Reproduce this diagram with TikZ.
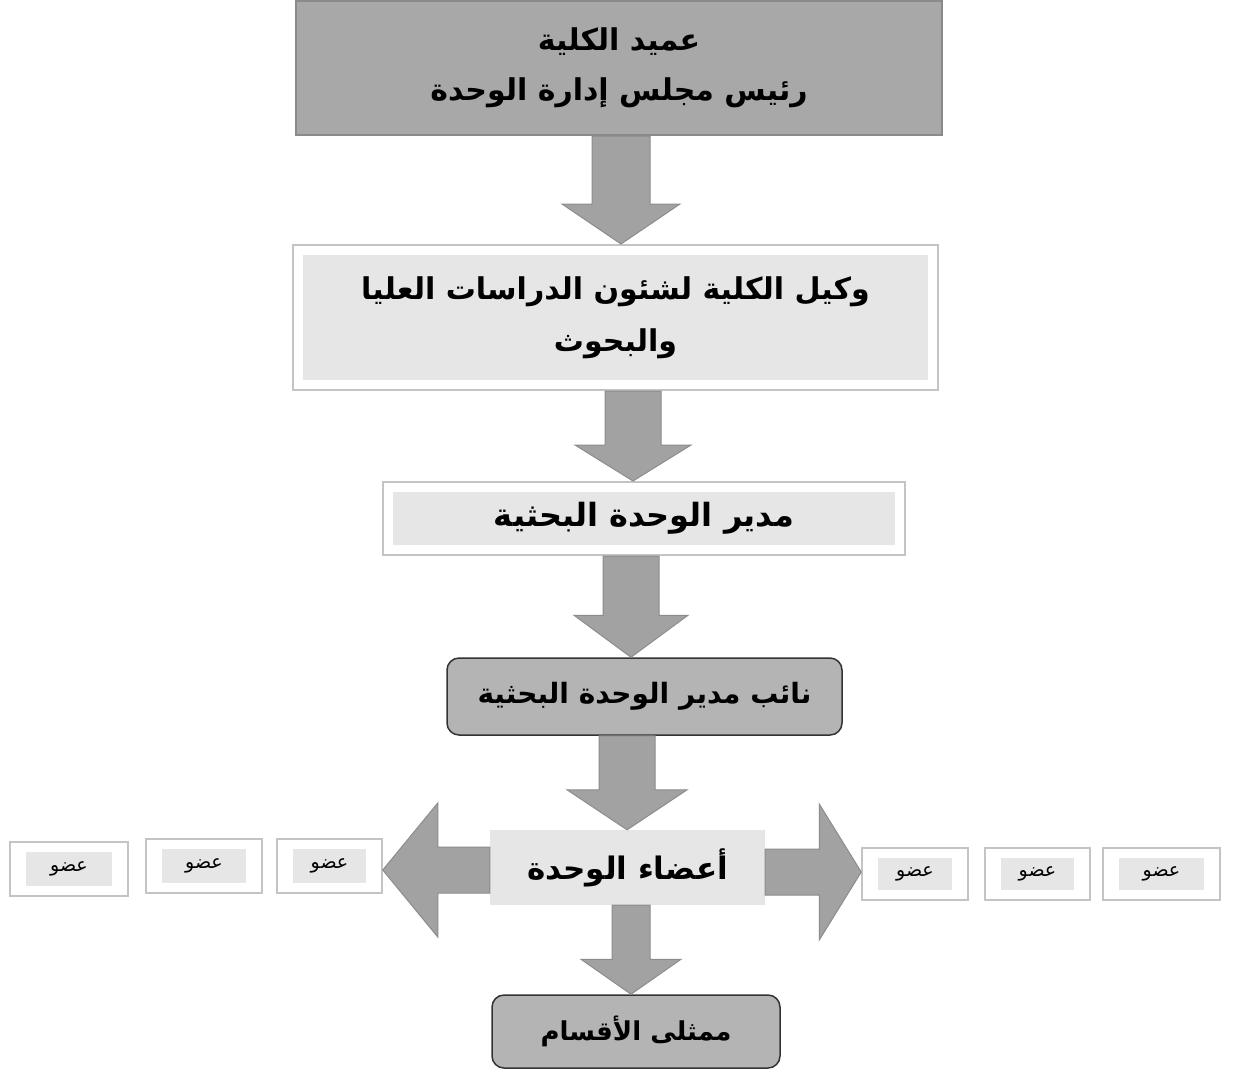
\documentclass[tikz,border=0pt]{standalone}
\usepackage{fontspec}
\newfontfamily\arabicfont[Script=Arabic]{DejaVu Sans}
\TeXXeTstate=1
\usetikzlibrary{calc}
\definecolor{darkbox}{HTML}{A8A8A8}
\definecolor{darkedge}{HTML}{8A8A8A}
\definecolor{roundbox}{HTML}{B4B4B4}
\definecolor{lightpanel}{HTML}{E6E6E6}
\definecolor{lightedge}{HTML}{C4C4C4}
\definecolor{arrowfill}{HTML}{A2A2A2}
\definecolor{arrowedge}{HTML}{8C8C8C}
\tikzset{
  ar/.style 2 args={font=\arabicfont\bfseries\fontsize{#1}{#2}\selectfont, text=black, align=center, inner sep=0pt},
  deanbox/.style={ar={30}{50}, fill=darkbox, draw=darkedge, line width=2pt},
  framedbox/.style={ar={30}{52}, fill=white, draw=lightedge, line width=2pt,
    path picture={\fill[lightpanel] ($(path picture bounding box.north west)+(10pt,-10pt)$) rectangle ($(path picture bounding box.south east)+(-10pt,10pt)$);}},
  roundedbox/.style={ar={28}{40}, fill=roundbox, draw=black!80, line width=1.5pt, rounded corners=12pt},
  plainbox/.style={ar={31}{40}, fill=lightpanel},
  memberbox/.style={font=\arabicfont\fontsize{19}{22}\selectfont, text=black, inner sep=0pt,
    fill=white, draw=lightedge, line width=1.5pt, minimum height=54pt,
    path picture={\fill[lightpanel] ($(path picture bounding box.north west)+(16pt,-10pt)$) rectangle ($(path picture bounding box.south east)+(-16pt,10pt)$);}},
  barrow/.style={fill=arrowfill, draw=arrowedge, line width=1pt, line join=miter}
}
% vertical block arrow: from node, to node, x centre, shaft half width, head half width, head length
\newcommand\blockdown[6]{%
  \draw[barrow] let \p1=(#1.south), \p2=(#2.north) in
  (#3pt-#4pt,\y1) -- (#3pt+#4pt,\y1) -- (#3pt+#4pt,\y2+#6pt) -- (#3pt+#5pt,\y2+#6pt)
  -- (#3pt,\y2) -- (#3pt-#5pt,\y2+#6pt) -- (#3pt-#4pt,\y2+#6pt) -- cycle;}
% leftward block arrow
\newcommand\blockleft[6]{%
  \draw[barrow] let \p1=(#1.west), \p2=(#2.east) in
  (\x1,-#3pt+#4pt) -- (\x1,-#3pt-#4pt) -- (\x2+#6pt,-#3pt-#4pt) -- (\x2+#6pt,-#3pt-#5pt)
  -- (\x2,-#3pt) -- (\x2+#6pt,-#3pt+#5pt) -- (\x2+#6pt,-#3pt+#4pt) -- cycle;}
% rightward block arrow
\newcommand\blockright[6]{%
  \draw[barrow] let \p1=(#1.east), \p2=(#2.west) in
  (\x1,-#3pt+#4pt) -- (\x1,-#3pt-#4pt) -- (\x2-#6pt,-#3pt-#4pt) -- (\x2-#6pt,-#3pt-#5pt)
  -- (\x2,-#3pt) -- (\x2-#6pt,-#3pt+#5pt) -- (\x2-#6pt,-#3pt+#4pt) -- cycle;}
\begin{document}
\begin{tikzpicture}[x=1pt,y=-1pt]
\useasboundingbox[fill=white] (0,0) rectangle (1233,1074);
% main chain
\node[deanbox, minimum width=646pt, minimum height=134pt] (dean) at (619,68)
  {\beginR عميد الكلية\endR\\\beginR رئيس مجلس إدارة الوحدة\endR};
\node[framedbox, minimum width=645pt, minimum height=145pt] (vice) at (615.5,317.5)
  {\beginR وكيل الكلية لشئون الدراسات العليا\endR\\\beginR والبحوث\endR};
\node[framedbox, ar={32}{40}, minimum width=522pt, minimum height=73pt] (head) at (644,518.5)
  {\beginR مدير الوحدة البحثية\endR};
\node[roundedbox, minimum width=395pt, minimum height=77pt] (deputy) at (644.5,696.5)
  {\beginR نائب مدير الوحدة البحثية\endR};
\node[plainbox, minimum width=275pt, minimum height=75pt] (members) at (627.5,867.5)
  {\beginR أعضاء الوحدة\endR};
\node[roundedbox, ar={26}{40}, minimum width=288pt, minimum height=73pt] (reps) at (636,1031.5)
  {\beginR ممثلى الأقسام\endR};
% member boxes
\node[memberbox, minimum width=118pt] (l1) at (69,869) {\beginR عضو\endR};
\node[memberbox, minimum width=116pt] (l2) at (204,866) {\beginR عضو\endR};
\node[memberbox, minimum width=105pt] (l3) at (329.5,866) {\beginR عضو\endR};
\node[memberbox, minimum width=106pt, minimum height=52pt] (r1) at (915,874) {\beginR عضو\endR};
\node[memberbox, minimum width=105pt, minimum height=52pt] (r2) at (1037.5,874) {\beginR عضو\endR};
\node[memberbox, minimum width=117pt, minimum height=52pt] (r3) at (1161.5,874) {\beginR عضو\endR};
% block arrows
\blockdown{dean}{vice}{621}{29}{59}{40}
\blockdown{vice}{head}{633}{28}{58}{36}
\blockdown{head}{deputy}{631}{28}{57}{42}
\blockdown{deputy}{members}{627}{28}{60}{40}
\blockdown{members}{reps}{631}{19}{50}{35}
\blockleft{members}{l3}{870}{23}{67}{55}
\blockright{members}{r1}{872}{23}{68}{42}
\end{tikzpicture}
\end{document}
